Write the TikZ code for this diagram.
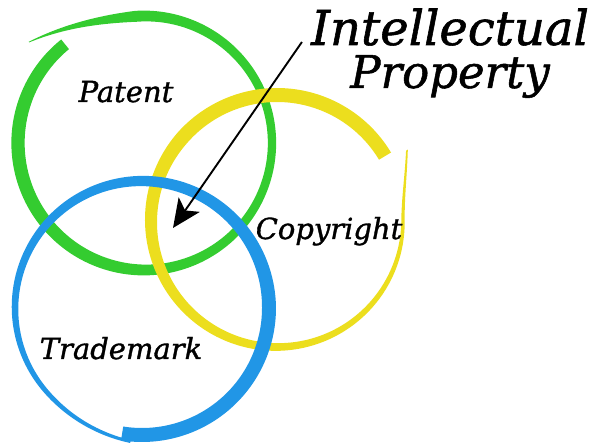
\documentclass[tikz,border=0pt]{standalone}
\usepackage{fontspec}
\setmainfont{DejaVu Serif}[ItalicFeatures={FakeBold=1.2}]
\usetikzlibrary{arrows.meta, positioning}
\tikzset{>={Stealth[width=9mm,length=10mm,inset=2.5mm]}}
\definecolor{ringgreen}{RGB}{52,204,48}
\definecolor{ringyellow}{RGB}{236,222,30}
\definecolor{ringblue}{RGB}{33,150,230}

\begin{document}
\begin{tikzpicture}[x=1pt, y=1pt,
    word/.style = {font=\fontsize{29}{34}\selectfont\itshape, inner sep=0pt, anchor=base},
    bigword/.style = {font=\fontsize{45}{50}\selectfont\itshape, inner sep=0pt},
    declare function = {
        rg(\t) = 127 + 28*(max(0,(\t-95)/45))^2;
        wg(\t) = (10 - 2.5*cos(\t))*min(1,(139-\t)/45) + 0.8;
        ry(\t) = 126 + 22*(max(0,\t/28.6))^2;
        wy(\t) = 2 + 12*min(1,(28.6-\t)/250);
        rb(\t) = 127 + 7*(max(0,(\t+140)/45))^2;
        wb(\t) = 3 + 11*min(1,(-95-\t)/265);
    }]
\useasboundingbox (0,0) rectangle (600,442);

% patent ring
\fill[ringgreen]
    plot[domain=-231:139, samples=150, smooth] ({145+(rg(\x)+wg(\x)/2)*cos(\x)}, {299+(rg(\x)+wg(\x)/2)*sin(\x)})
    -- plot[domain=139:-231, samples=150, smooth] ({145+(rg(\x)-wg(\x)/2)*cos(\x)}, {299+(rg(\x)-wg(\x)/2)*sin(\x)})
    -- cycle;
% copyright ring
\fill[ringyellow]
    plot[domain=-329:28.6, samples=150, smooth] ({277+(ry(\x)+wy(\x)/2)*cos(\x)}, {221+(ry(\x)+wy(\x)/2)*sin(\x)})
    -- plot[domain=28.6:-329, samples=150, smooth] ({277+(ry(\x)-wy(\x)/2)*cos(\x)}, {221+(ry(\x)-wy(\x)/2)*sin(\x)})
    -- cycle;
% trademark ring
\fill[ringblue]
    plot[domain=-459:-95, samples=150, smooth] ({142+(rb(\x)+wb(\x)/2)*cos(\x)}, {134+(rb(\x)+wb(\x)/2)*sin(\x)})
    -- plot[domain=-95:-459, samples=150, smooth] ({142+(rb(\x)-wb(\x)/2)*cos(\x)}, {134+(rb(\x)-wb(\x)/2)*sin(\x)})
    -- cycle;

\node (patent) [word] at (126,340) {Patent};
\node (copyright) [word] at (329,203) {Copyright};
\node (trademark) [word] at (121,83) {Trademark};

\node (intel) [bigword, font=\fontsize{48}{52}\selectfont\itshape, anchor=base] at (450,397) {Intellectual};
\node (prop) [bigword, below = 9pt of intel] {Property};

\coordinate (core) at (173,214);
\draw[->, line width=1.9pt] ([xshift=-9pt, yshift=3pt]intel.base west) -- (core);
\end{tikzpicture}
\end{document}
